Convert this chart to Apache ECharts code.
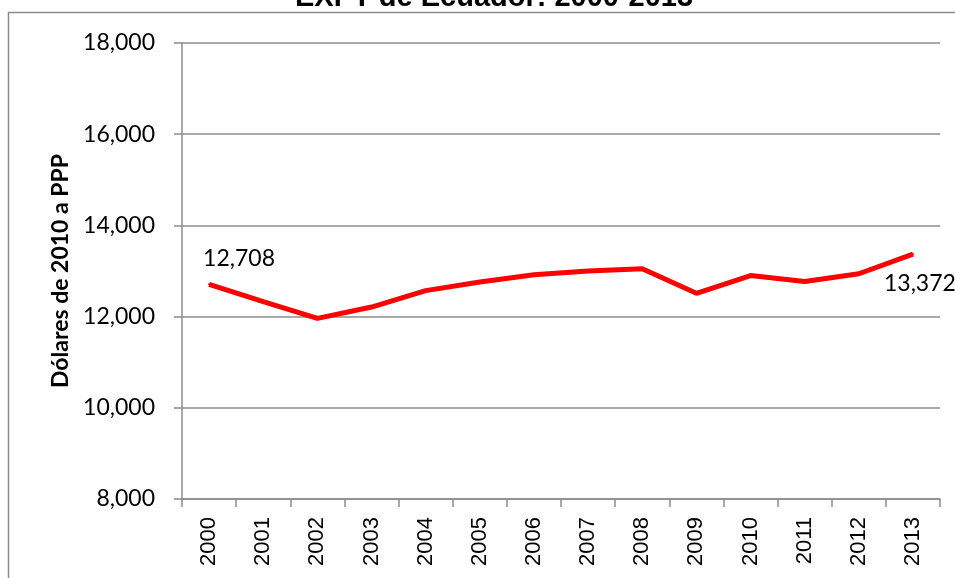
<!DOCTYPE html>
<html>
<head>
<meta charset="utf-8">
<script src="https://cdn.jsdelivr.net/npm/echarts@6/dist/echarts.min.js"></script>
<style>
  html, body { margin: 0; padding: 0; background: #fff; }
  #chart { width: 955px; height: 578px; }
</style>
</head>
<body>
<div id="chart"></div>
<script>
const years = ['2000', '2001', '2002', '2003', '2004', '2005', '2006', '2007', '2008', '2009', '2010', '2011', '2012', '2013']
const gdp = [12708, 12330, 11960, 12210, 12570, 12760, 12920, 13000, 13050, 12510, 12900, 12770, 12940, 13372]
const yTicks = [8000, 10000, 12000, 14000, 16000, 18000]

const chart = echarts.init(document.getElementById('chart'))
const grayLine = '#8c8c8c'
const fmt = v => v.toLocaleString('en-US')

chart.setOption({
  animation: false,
  title: {
    text: 'EXPT de Ecuador: 2000-2013',
    left: 290,
    top: -22,
    textStyle: { fontFamily: 'Liberation Sans', fontWeight: 'bold', fontSize: 29, color: '#000' }
  },
  graphic: [{
    type: 'polyline',
    shape: { points: [[8.5, 578], [8.5, 12.5], [955, 12.5]] },
    style: { stroke: grayLine, lineWidth: 1.5, fill: null }
  }],
  grid: { left: 182, right: 15, top: 43, bottom: 79 },
  xAxis: {
    type: 'category',
    data: years,
    boundaryGap: true,
    axisLine: { lineStyle: { color: grayLine, width: 1.5 } },
    axisTick: { show: true, length: 8, lineStyle: { color: grayLine, width: 1.5 } },
    axisLabel: {
      rotate: 90,
      margin: 18,
      fontFamily: 'Liberation Sans',
      fontSize: 22,
      color: '#000'
    }
  },
  yAxis: {
    type: 'value',
    min: yTicks[0],
    max: yTicks[yTicks.length - 1],
    interval: 2000,
    name: 'Dólares de 2010 a PPP',
    nameLocation: 'middle',
    nameGap: 108,
    nameTextStyle: { fontFamily: 'Lato', fontWeight: 'bold', fontSize: 23, color: '#000' },
    axisLine: { show: true, lineStyle: { color: grayLine, width: 1.5 } },
    axisTick: { show: true, length: 8, lineStyle: { color: grayLine, width: 1.5 } },
    axisLabel: {
      margin: 27,
      fontFamily: 'Lato',
      fontSize: 23,
      color: '#000',
      formatter: fmt
    },
    splitLine: { show: true, lineStyle: { color: grayLine, width: 1.5 } }
  },
  series: [{
    type: 'line',
    data: gdp.map((v, i) => {
      if (i === 0) {
        return { value: v, label: { show: true, position: 'top', offset: [30, -8] } }
      }
      if (i === gdp.length - 1) {
        return { value: v, label: { show: true, position: 'bottom', offset: [7, 12] } }
      }
      return v
    }),
    symbol: 'circle',
    symbolSize: 2,
    itemStyle: { color: '#ff0000' },
    lineStyle: { color: '#ff0000', width: 5 },
    label: {
      show: false,
      fontFamily: 'Lato',
      fontSize: 23,
      color: '#000',
      formatter: p => fmt(p.value)
    }
  }]
})
</script>
</body>
</html>
